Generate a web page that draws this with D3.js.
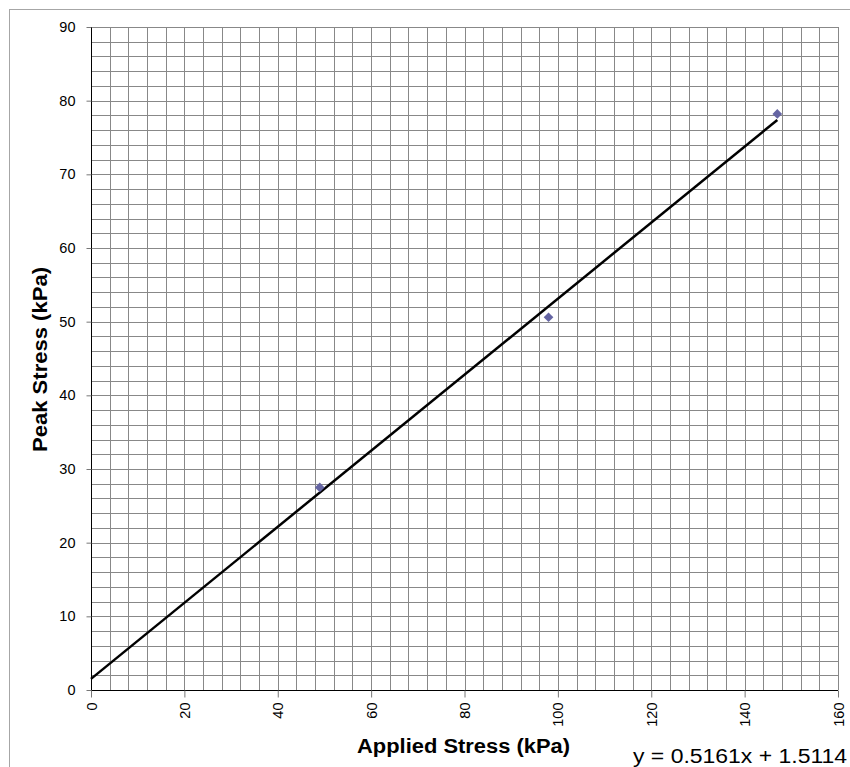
<!DOCTYPE html>
<html><head><meta charset="utf-8">
<script src="https://cdn.jsdelivr.net/npm/d3@7"></script>
<style>body{margin:0;background:#fff}svg{display:block}</style>
</head><body>
<script>
const appliedStress = [49, 98, 147];
const peakStress = [27.5, 50.6, 78.2];
const slope = 0.5161, intercept = 1.5114;
const trendRange = [0, 147];
const xTicks = [0, 20, 40, 60, 80, 100, 120, 140, 160];
const yTicks = [0, 10, 20, 30, 40, 50, 60, 70, 80, 90];
const xTitle = "Applied Stress (kPa)";
const yTitle = "Peak Stress (kPa)";
const eqText = "y = 0.5161x + 1.5114";

const W = 850, H = 767;
const m = {left: 91, top: 27, right: 838, bottom: 690};
const FONT = "Liberation Sans, Arial, sans-serif";
const svg = d3.select("body").append("svg").attr("width", W).attr("height", H);

svg.append("rect").attr("x", 9.5).attr("y", 9.5).attr("width", 860).attr("height", 800)
  .attr("fill", "none").attr("stroke", "#a6a6a6").attr("stroke-width", 1);

const x = d3.scaleLinear().domain([0, 160]).range([m.left, m.right]);
const y = d3.scaleLinear().domain([0, 90]).range([m.bottom, m.top]);

const g = svg.append("g");
const xMinor = d3.range(0, 161, 4);
const yMinor = d3.range(0, 91, 2);
g.selectAll(".vx").data(xMinor).join("line")
  .attr("x1", d => Math.round(x(d)) + 0.5).attr("x2", d => Math.round(x(d)) + 0.5)
  .attr("y1", m.top).attr("y2", m.bottom)
  .attr("stroke", "#888").attr("stroke-width", 1);
g.selectAll(".hy").data(yMinor).join("line")
  .attr("y1", d => Math.round(y(d)) + 0.5).attr("y2", d => Math.round(y(d)) + 0.5)
  .attr("x1", m.left).attr("x2", m.right)
  .attr("stroke", "#888").attr("stroke-width", 1);

const xAxis = d3.axisBottom(x).tickValues(xTicks).tickSize(7).tickFormat(d3.format("d"));
const yAxis = d3.axisLeft(y).tickValues(yTicks).tickSize(5).tickFormat(d3.format("d"));
const gx = svg.append("g").attr("transform", `translate(0,${m.bottom + 0.5})`).call(xAxis);
gx.select(".domain").attr("stroke", "#000").attr("d", `M${m.left},0H${m.right}`);
gx.selectAll(".tick line").attr("stroke", "#777");
gx.selectAll(".tick text").attr("font-family", FONT).attr("font-size", 14.5)
  .attr("fill", "#000").attr("transform", "rotate(-90)").attr("text-anchor", "end")
  .attr("x", -12).attr("y", 0).attr("dy", "0.35em");
const gy = svg.append("g").attr("transform", `translate(${m.left + 0.5},0)`).call(yAxis);
gy.select(".domain").attr("stroke", "#000").attr("d", `M0,${m.top}V${m.bottom}`);
gy.selectAll(".tick line").attr("stroke", "#777");
gy.selectAll(".tick text").attr("font-family", FONT).attr("font-size", 14.5)
  .attr("fill", "#000").attr("x", -16);

svg.append("line")
  .attr("x1", x(trendRange[0])).attr("y1", y(slope * trendRange[0] + intercept))
  .attr("x2", x(trendRange[1])).attr("y2", y(slope * trendRange[1] + intercept))
  .attr("stroke", "#000").attr("stroke-width", 2.5);

const pts = appliedStress.map((v, i) => [v, peakStress[i]]);
svg.selectAll(".pt").data(pts).join("path")
  .attr("d", d3.symbol().type(d3.symbolDiamond2).size(60))
  .attr("transform", d => `translate(${x(d[0])},${y(d[1])})`)
  .attr("fill", "#6565a3");

svg.append("text").attr("x", 357).attr("y", 753)
  .attr("font-family", FONT).attr("font-size", 20).attr("font-weight", "bold")
  .attr("textLength", 213).attr("lengthAdjust", "spacingAndGlyphs")
  .text(xTitle);
svg.append("text").attr("transform", "translate(47,452) rotate(-90)")
  .attr("font-family", FONT).attr("font-size", 20.5).attr("font-weight", "bold")
  .attr("textLength", 185).attr("lengthAdjust", "spacingAndGlyphs")
  .text(yTitle);
svg.append("text").attr("x", 633).attr("y", 763)
  .attr("font-family", FONT).attr("font-size", 20.5)
  .attr("textLength", 214).attr("lengthAdjust", "spacingAndGlyphs")
  .text(eqText);
</script>
</body></html>
